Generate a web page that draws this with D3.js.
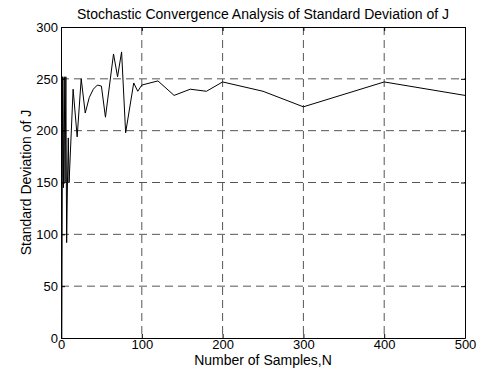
<!DOCTYPE html>
<html>
<head>
<meta charset="utf-8">
<script src="https://cdn.jsdelivr.net/npm/d3@7"></script>
<style>
  body { margin: 0; background: #fff; }
  text { font-family: "Liberation Sans", Arial, sans-serif; }
</style>
</head>
<body>
<div class="canvas"></div>
<script>
// Data
const sampleN = [1, 2, 3, 4, 5, 6, 7, 8, 9, 10, 15, 20, 25, 30, 35, 40, 45, 50, 55, 65, 70, 75, 80, 90, 95, 100,
  120, 140, 160, 180, 200, 250, 300, 400, 500]
const stdJ = [0, 252, 145, 252, 150, 252, 92, 150, 193, 150, 240, 194, 250, 217, 232, 240, 244, 243, 213, 274, 252, 276, 198, 246, 238, 244,
  248, 234, 240, 238, 247, 238, 223, 247, 234]
const xTicks = [0, 100, 200, 300, 400, 500]
const yTicks = [0, 50, 100, 150, 200, 250, 300]

const width = 487
const height = 381
const margin = { top: 27, right: 22, bottom: 43, left: 61 }
const graphWidth = width - margin.left - margin.right
const graphHeight = height - margin.top - margin.bottom

const svg = d3.select('.canvas')
  .append('svg')
  .attr('width', width)
  .attr('height', height)

const graph = svg.append('g')
  .attr('transform', `translate(${margin.left}, ${margin.top})`)

// Scales
const x = d3.scaleLinear().domain([0, 500]).range([0, graphWidth])
const y = d3.scaleLinear().domain([0, 300]).range([graphHeight, 0])

// Grid
graph.append('g')
  .selectAll('line')
  .data(xTicks.slice(1, -1))
  .enter().append('line')
  .attr('x1', d => x(d)).attr('x2', d => x(d))
  .attr('y1', 0).attr('y2', graphHeight)
  .attr('stroke', '#555')
  .attr('stroke-dasharray', '8,5')

graph.append('g')
  .selectAll('line')
  .data(yTicks.slice(1, -1))
  .enter().append('line')
  .attr('x1', 0).attr('x2', graphWidth)
  .attr('y1', d => y(d)).attr('y2', d => y(d))
  .attr('stroke', '#555')
  .attr('stroke-dasharray', '8,5')

// Line
const line = d3.line()
  .x((d, i) => x(sampleN[i]))
  .y(d => y(d))

graph.append('path')
  .datum(stdJ)
  .attr('fill', 'none')
  .attr('stroke', '#000')
  .attr('stroke-width', 1)
  .attr('d', line)

// Axes (ticks pointing inward, box on all sides)
const xAxisGroup = graph.append('g').attr('transform', `translate(0, ${graphHeight})`)
const yAxisGroup = graph.append('g')
const xTopGroup = graph.append('g')
const yRightGroup = graph.append('g').attr('transform', `translate(${graphWidth}, 0)`)

xAxisGroup.call(d3.axisBottom(x).tickValues(xTicks).tickSizeInner(-4).tickSizeOuter(0).tickPadding(2))
yAxisGroup.call(d3.axisLeft(y).tickValues(yTicks).tickSizeInner(-4).tickSizeOuter(0).tickPadding(3))
xTopGroup.call(d3.axisTop(x).tickValues(xTicks).tickSizeInner(-4).tickSizeOuter(0).tickFormat(''))
yRightGroup.call(d3.axisRight(y).tickValues(yTicks).tickSizeInner(-4).tickSizeOuter(0).tickFormat(''))

svg.selectAll('.domain').attr('stroke', '#000')
svg.selectAll('.tick line').attr('stroke', '#000')
svg.selectAll('.tick text')
  .attr('fill', '#000')
  .style('font-size', '13px')
  .style('font-family', '"Liberation Sans", Arial, sans-serif')

// Texts
svg.append('text')
  .attr('x', margin.left + graphWidth / 2)
  .attr('y', 19)
  .attr('text-anchor', 'middle')
  .style('font-size', '14px')
  .text('Stochastic Convergence Analysis of Standard Deviation of J')

svg.append('text')
  .attr('x', margin.left + graphWidth / 2)
  .attr('y', 365)
  .attr('text-anchor', 'middle')
  .style('font-size', '14px')
  .text('Number of Samples,N')

svg.append('text')
  .attr('transform', `translate(31, ${margin.top + graphHeight / 2}) rotate(-90)`)
  .attr('text-anchor', 'middle')
  .style('font-size', '14px')
  .text('Standard Deviation of J')
</script>
</body>
</html>
